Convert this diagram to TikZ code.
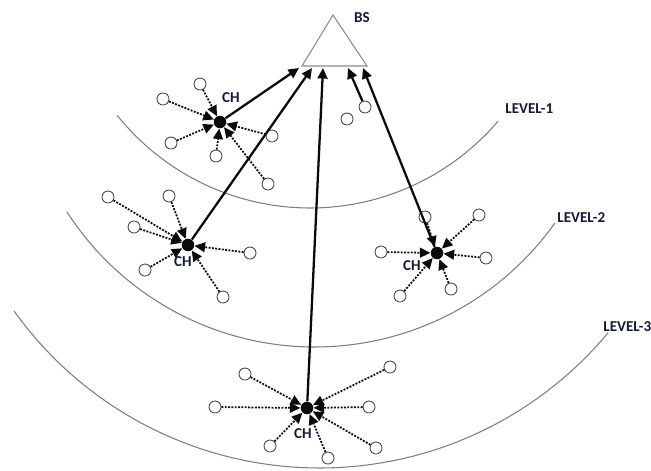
\documentclass[tikz,border=0pt]{standalone}
\usepackage{fontspec}
\newfontfamily\lblfont{Carlito}
\usetikzlibrary{arrows.meta,calc}
\definecolor{ink}{HTML}{0B0B0B}
\definecolor{navy}{HTML}{151B33}
\definecolor{ring}{HTML}{7E7E7E}
\definecolor{rim}{HTML}{4A4A4A}
\definecolor{bsline}{HTML}{8A8A8A}

\begin{document}
\begin{tikzpicture}[
    x=0.02cm, y=-0.02cm,
    >={Triangle[length=6pt,width=5.6pt]},
    sensor/.style={circle, draw=rim, line width=0.5pt, fill=white, minimum size=0.24cm, inner sep=0pt},
    head/.style={circle, fill=ink, minimum size=0.25cm, inner sep=0pt},
    lbl/.style={font=\lblfont\bfseries\fontsize{8.6}{9}\selectfont, text=navy, inner sep=0pt},
    level/.style={draw=ring, line width=0.6pt},
    ulink/.style={->, line width=1.3pt, draw=ink},
    dlink/.style={->, line width=1pt, draw=ink, dash pattern=on 1.1pt off 0.8pt},
  ]
  \useasboundingbox (0,0) rectangle (651,470);

  % ---- level rings
  \draw[level] plot[domain=141.3:40.4, samples=60, smooth] ({310+247*cos(\x)}, {-39+247*sin(\x)});
  \draw[level] plot[domain=147.2:35.4, samples=60, smooth] ({314.7+294.7*cos(\x)}, {52.3+294.7*sin(\x)});
  \draw[level] plot[domain=144.4:39.8, samples=60, smooth] ({319.5+375.7*cos(\x)}, {92.3+375.7*sin(\x)});
  \node[lbl, anchor=west] (lv1) at (505,109) {LEVEL-1};
  \node[lbl, anchor=west] (lv2) at (557,218) {LEVEL-2};
  \node[lbl, anchor=west] (lv3) at (603,327) {LEVEL-3};

  % ---- base station
  \coordinate (bsA) at (333,15);
  \coordinate (bsL) at (302,66);
  \coordinate (bsR) at (367,66);
  \draw[draw=bsline, line width=0.6pt] (bsA) -- (bsL) -- (bsR) -- cycle;
  \node[lbl] (bs) at (362,18) {BS};
  \coordinate (in1) at (299,68);
  \coordinate (in2) at (312,68);
  \coordinate (in3) at (323,68);
  \coordinate (in4) at (348,68);
  \coordinate (in5) at (363,68);

  % ---- cluster in level 1
  \node[head] (ch1) at (220,122) {};
  \node[lbl] at (231,98) {CH};
  \node[sensor] (a1) at (200,84) {};
  \node[sensor] (a2) at (163,99) {};
  \node[sensor] (a3) at (171,143) {};
  \node[sensor] (a4) at (216,156) {};
  \node[sensor] (a5) at (272,136) {};
  \node[sensor] (a6) at (268,184) {};
  \draw[dlink] (a1) -- (ch1);
  \draw[dlink] (a2) -- (ch1);
  \draw[dlink] (a3) -- (ch1);
  \draw[dlink] (a4) -- (ch1);
  \draw[dlink] (a5) -- (ch1);
  \draw[dlink] (a6) -- (ch1);

  % single nodes under the base station
  \node[sensor] (s1) at (365,107) {};
  \node[sensor] (s2) at (347,119) {};

  % ---- left cluster in level 2
  \node[head] (ch2) at (188,245) {};
  \node[lbl] at (183,262) {CH};
  \node[sensor] (b1) at (108,197) {};
  \node[sensor] (b2) at (169,196) {};
  \node[sensor] (b3) at (134,227) {};
  \node[sensor] (b4) at (250,253) {};
  \node[sensor] (b5) at (145,270) {};
  \node[sensor] (b6) at (223,297) {};
  \draw[dlink] (b1) -- (ch2);
  \draw[dlink] (b2) -- (ch2);
  \draw[dlink] (b3) -- (ch2);
  \draw[dlink] (b4) -- (ch2);
  \draw[dlink] (b5) -- (ch2);
  \draw[dlink] (b6) -- (ch2);

  % ---- right cluster in level 2
  \node[head] (ch3) at (437,253) {};
  \node[lbl] at (412,266) {CH};
  \node[sensor] (c1) at (425,217) {};
  \node[sensor] (c2) at (479,215) {};
  \node[sensor] (c3) at (381,252) {};
  \node[sensor] (c4) at (486,258) {};
  \node[sensor] (c5) at (400,296) {};
  \node[sensor] (c6) at (451,289) {};
  \draw[dlink] (c1) -- (ch3);
  \draw[dlink] (c2) -- (ch3);
  \draw[dlink] (c3) -- (ch3);
  \draw[dlink] (c4) -- (ch3);
  \draw[dlink] (c5) -- (ch3);
  \draw[dlink] (c6) -- (ch3);

  % ---- cluster in level 3
  \node[head] (ch4) at (307,408) {};
  \node[lbl] at (303,434) {CH};
  \node[sensor] (d1) at (245,374) {};
  \node[sensor] (d2) at (215,407) {};
  \node[sensor] (d3) at (270,446) {};
  \node[sensor] (d4) at (328,458) {};
  \node[sensor] (d5) at (390,367) {};
  \node[sensor] (d6) at (369,407) {};
  \node[sensor] (d7) at (376,448) {};
  \draw[dlink] (d1) -- (ch4);
  \draw[dlink] (d2) -- (ch4);
  \draw[dlink] (d3) -- (ch4);
  \draw[dlink] (d4) -- (ch4);
  \draw[dlink] (d5) -- (ch4);
  \draw[dlink] (d6) -- (ch4);
  \draw[dlink] (d7) -- (ch4);

  % ---- uplinks to the base station
  \draw[ulink] (ch1) -- (in1);
  \draw[ulink] (ch2) -- (in2);
  \draw[ulink] (ch4) -- (in3);
  \draw[ulink] (s1) -- (in4);
  \draw[ulink] (ch3) -- (in5);
\end{tikzpicture}
\end{document}
